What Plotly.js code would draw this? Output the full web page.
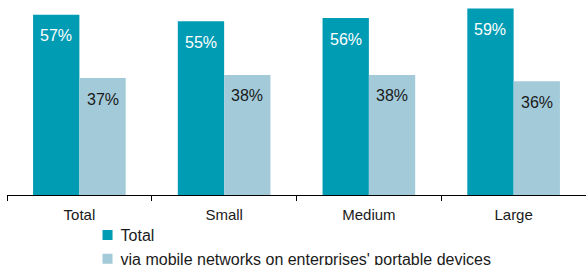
<!DOCTYPE html>
<html>
<head>
<meta charset="utf-8">
<script src="https://cdn.plot.ly/plotly-3.0.1.min.js"></script>
<style>html,body{margin:0;padding:0;background:#fff;}#chart{width:586px;height:265px;}</style>
</head>
<body>
<div id="chart"></div>
<script>
const categories = ["Total", "Small", "Medium", "Large"];
const seriesNames = ["Total", "via mobile networks on enterprises' portable devices"];
const totalValues = [57, 55, 56, 59];
const mobileValues = [37, 38, 38, 36];

const colors = ["#009cb4", "#a3cad9"];
const textColors = ["#ffffff", "#1a1a1a"];
const FONT = "Liberation Sans, Arial, sans-serif";

const series = [totalValues, mobileValues];
const traces = series.map((vals, i) => ({
  type: "bar",
  name: seriesNames[i],
  x: categories,
  y: vals,
  marker: {color: colors[i]},
  hoverinfo: "skip"
}));

const annotations = [];
series.forEach((vals, i) => {
  vals.forEach((v, j) => {
    annotations.push({
      x: j + (i === 0 ? -0.16 : 0.16),
      y: v,
      xref: "x", yref: "y",
      text: v + "%",
      showarrow: false,
      yanchor: "middle",
      yshift: -21,
      font: {family: FONT, size: 16, color: textColors[i]}
    });
  });
});

const layout = {
  width: 586, height: 265,
  margin: {l: 7, r: 0, t: 0, b: 70, autoexpand: false},
  paper_bgcolor: "#fff", plot_bgcolor: "#fff",
  font: {family: FONT, size: 15, color: "#1a1a1a"},
  barmode: "group",
  bargap: 0.36,
  bargroupgap: 0,
  showlegend: true,
  legend: {
    orientation: "v",
    x: 0.127, xanchor: "left",
    y: -0.118, yanchor: "top",
    bgcolor: "rgba(0,0,0,0)",
    font: {family: FONT, size: 16, color: "#1a1a1a"},
    tracegroupgap: 0,
    itemwidth: 30
  },
  xaxis: {
    type: "category",
    range: [-0.5, 3.5],
    showline: true, linecolor: "#000", linewidth: 1,
    ticks: "outside", tickson: "boundaries", ticklen: 5, tickcolor: "#000",
    ticklabelstandoff: 6,
    showgrid: false, zeroline: false,
    tickfont: {family: FONT, size: 15, color: "#1a1a1a"}
  },
  yaxis: {
    range: [0, 61.7],
    visible: false,
    showgrid: false, zeroline: false
  },
  annotations: annotations
};

Plotly.newPlot("chart", traces, layout, {displayModeBar: false, staticPlot: true}).then(gd => {
  gd.querySelectorAll(".legend .legendpoints").forEach(g => {
    g.setAttribute("transform", "translate(7,0)");
    g.querySelectorAll("path").forEach(p => p.setAttribute("d", "M5,5H-5V-5H5Z"));
  });
});
</script>
</body>
</html>
